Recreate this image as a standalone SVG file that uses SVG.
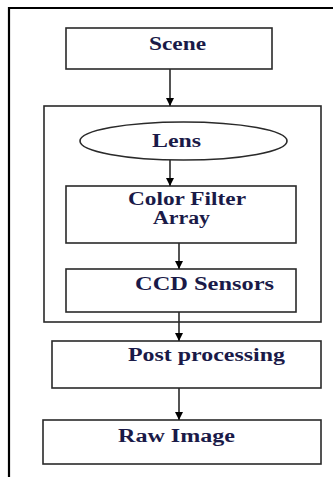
<svg xmlns="http://www.w3.org/2000/svg" width="333" height="477" viewBox="0 0 333 477">
<style>
.box{fill:#fff;stroke:#2a2a2a;stroke-width:1.6}
.frame{fill:none;stroke:#000;stroke-width:2.2}
.conn{stroke:#2a2a2a;stroke-width:1.6;fill:none}
.lbl{font-family:"Liberation Serif","Times New Roman",serif;font-weight:bold;font-size:18px;fill:#1a1a48}
</style>
<defs>
<marker id="ah" viewBox="0 0 10 10" refX="10" refY="5" markerWidth="8" markerHeight="9" orient="auto" markerUnits="userSpaceOnUse">
<path d="M0,0 L10,5 L0,10 Z" fill="#000"/>
</marker>
</defs>
<rect width="333" height="477" fill="#fff"/>
<path class="frame" d="M9,477 V8 H333"/>
<g id="container"><rect class="box" x="44" y="106" width="277" height="216"/></g>
<g id="scene"><rect class="box" x="66" y="28" width="206" height="41"/><text class="lbl" x="149" y="50" textLength="57" lengthAdjust="spacingAndGlyphs">Scene</text></g>
<g id="lens"><ellipse class="box" cx="183.5" cy="141" rx="103.5" ry="19"/><text class="lbl" x="152" y="147" textLength="49" lengthAdjust="spacingAndGlyphs">Lens</text></g>
<g id="cfa"><rect class="box" x="66" y="186" width="230" height="57"/><text class="lbl" x="128" y="205" textLength="118" lengthAdjust="spacingAndGlyphs">Color Filter</text><text class="lbl" x="153" y="224" textLength="57" lengthAdjust="spacingAndGlyphs">Array</text></g>
<g id="ccd"><rect class="box" x="66" y="269" width="230" height="43"/><text class="lbl" x="135" y="290" textLength="139" lengthAdjust="spacingAndGlyphs">CCD Sensors</text></g>
<g id="post"><rect class="box" x="52" y="341" width="269" height="47"/><text class="lbl" x="128" y="361" textLength="157" lengthAdjust="spacingAndGlyphs">Post processing</text></g>
<g id="raw"><rect class="box" x="43" y="420" width="278" height="44"/><text class="lbl" x="118" y="442" textLength="117" lengthAdjust="spacingAndGlyphs">Raw Image</text></g>
<g id="connectors">
<line class="conn" x1="170" y1="69" x2="170" y2="106" marker-end="url(#ah)"/>
<line class="conn" x1="170" y1="160" x2="170" y2="186" marker-end="url(#ah)"/>
<line class="conn" x1="179" y1="243" x2="179" y2="269" marker-end="url(#ah)"/>
<line class="conn" x1="179" y1="312" x2="179" y2="341" marker-end="url(#ah)"/>
<line class="conn" x1="179" y1="388" x2="179" y2="420" marker-end="url(#ah)"/>
</g>
</svg>
